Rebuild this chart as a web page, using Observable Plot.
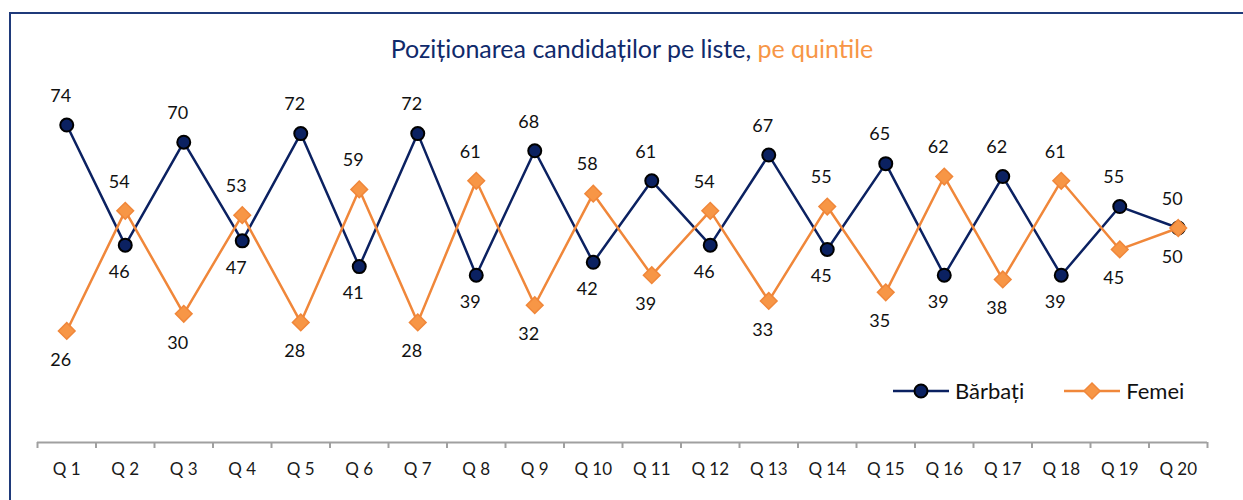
<!DOCTYPE html>
<html>
<head>
<meta charset="utf-8">
<script src="https://cdn.jsdelivr.net/npm/d3@7"></script>
<script src="https://cdn.jsdelivr.net/npm/@observablehq/plot@0.6"></script>
<style>
  body { margin: 0; background: #fff; }
  #wrap { position: relative; width: 1243px; height: 500px; overflow: hidden; font-family: Lato, "Open Sans", sans-serif; }
  #frame { position: absolute; left: 9px; top: 12px; width: 1300px; height: 600px; border-left: 2px solid #1f3a7a; border-top: 2px solid #1f3a7a; box-sizing: border-box; }
  #title { position: absolute; left: 0; width: 1264px; top: 33px; text-align: center; font-size: 25px; color: #102a6b; }
  #title .o { color: #f79646; }
  #chart { position: absolute; left: 0; top: 0; }
  #chart svg g[aria-label="x-axis"] line, #chart svg g[aria-label="x-axis tick"] { stroke: #a0a0a0; stroke-width: 2; }
  #legend { position: absolute; top: 377px; left: 893px; font-size: 22px; color: #111; display: flex; align-items: center; }
  #legend .item { display: flex; align-items: center; }
  #legend svg { display: block; margin-right: 6px; }
</style>
</head>
<body>
<div id="wrap">
  <div id="frame"></div>
  <div id="title">Poziționarea candidaților pe liste, <span class="o">pe quintile</span></div>
  <div id="chart"></div>
  <div id="legend">
    <div class="item">
      <svg width="56" height="20"><line x1="0" y1="10" x2="56" y2="10" stroke="#0b2161" stroke-width="2.5"/><circle cx="28" cy="10" r="6.5" fill="#0b2161" stroke="#000" stroke-width="2"/></svg>
      <span>Bărbați</span>
    </div>
    <div class="item" style="margin-left:40px">
      <svg width="56" height="20"><line x1="0" y1="10" x2="56" y2="10" stroke="#f0873a" stroke-width="2.5"/><path d="M28,2 L36,10 L28,18 L20,10 Z" fill="#f79646" stroke="#f0873a" stroke-width="1.5"/></svg>
      <span>Femei</span>
    </div>
  </div>
</div>
<script>
const categories = ["Q 1","Q 2","Q 3","Q 4","Q 5","Q 6","Q 7","Q 8","Q 9","Q 10","Q 11","Q 12","Q 13","Q 14","Q 15","Q 16","Q 17","Q 18","Q 19","Q 20"];
const barbati = [74,46,70,47,72,41,72,39,68,42,61,46,67,45,65,39,62,39,55,50];
const femei   = [26,54,30,53,28,59,28,61,32,58,39,54,33,55,35,62,38,61,45,50];

const navy = "#0b2161";
const orange = "#f0873a";

const B = categories.map((c, i) => ({i: i + 1, c, v: barbati[i], up: barbati[i] >= femei[i]}));
const F = categories.map((c, i) => ({i: i + 1, c, v: femei[i], up: femei[i] > barbati[i]}));
const bounds = d3.range(0, categories.length + 1).map(k => k + 0.5);

const chart = Plot.plot({
  width: 1243,
  height: 500,
  marginLeft: 37,
  marginRight: 36,
  marginTop: 13,
  marginBottom: 58,
  x: {type: "linear", domain: [0.5, categories.length + 0.5], ticks: bounds, tickFormat: () => "", tickSize: 6, label: null},
  y: {domain: [0, 100], axis: null},
  marks: [
    Plot.ruleY([0], {stroke: "#a0a0a0", strokeWidth: 2}),
    Plot.text(categories, {x: (d, i) => i + 1, y: () => 0, text: d => d, dy: 27, fontSize: 17, fill: "#1a1a1a"}),
    Plot.line(B, {x: "i", y: "v", stroke: navy, strokeWidth: 2.5}),
    Plot.dot(B, {x: "i", y: "v", r: 6.5, fill: navy, stroke: "#000", strokeWidth: 2}),
    Plot.line(F, {x: "i", y: "v", stroke: orange, strokeWidth: 2.5}),
    Plot.dot(F, {x: "i", y: "v", r: 7.5, symbol: "diamond2", fill: "#f79646", stroke: orange, strokeWidth: 1.5}),
    Plot.text(B.filter(d => d.up), {x: "i", y: "v", text: "v", dy: -29, dx: -6, fontSize: 18, fill: "#111"}),
    Plot.text(B.filter(d => !d.up), {x: "i", y: "v", text: "v", dy: 27, dx: -6, fontSize: 18, fill: "#111"}),
    Plot.text(F.filter(d => d.up), {x: "i", y: "v", text: "v", dy: -29, dx: -6, fontSize: 18, fill: "#111"}),
    Plot.text(F.filter(d => !d.up), {x: "i", y: "v", text: "v", dy: 29, dx: -6, fontSize: 18, fill: "#111"})
  ],
  style: {fontFamily: "Lato, 'Open Sans', sans-serif", background: "transparent", overflow: "visible"}
});
document.getElementById("chart").appendChild(chart);
</script>
</body>
</html>
